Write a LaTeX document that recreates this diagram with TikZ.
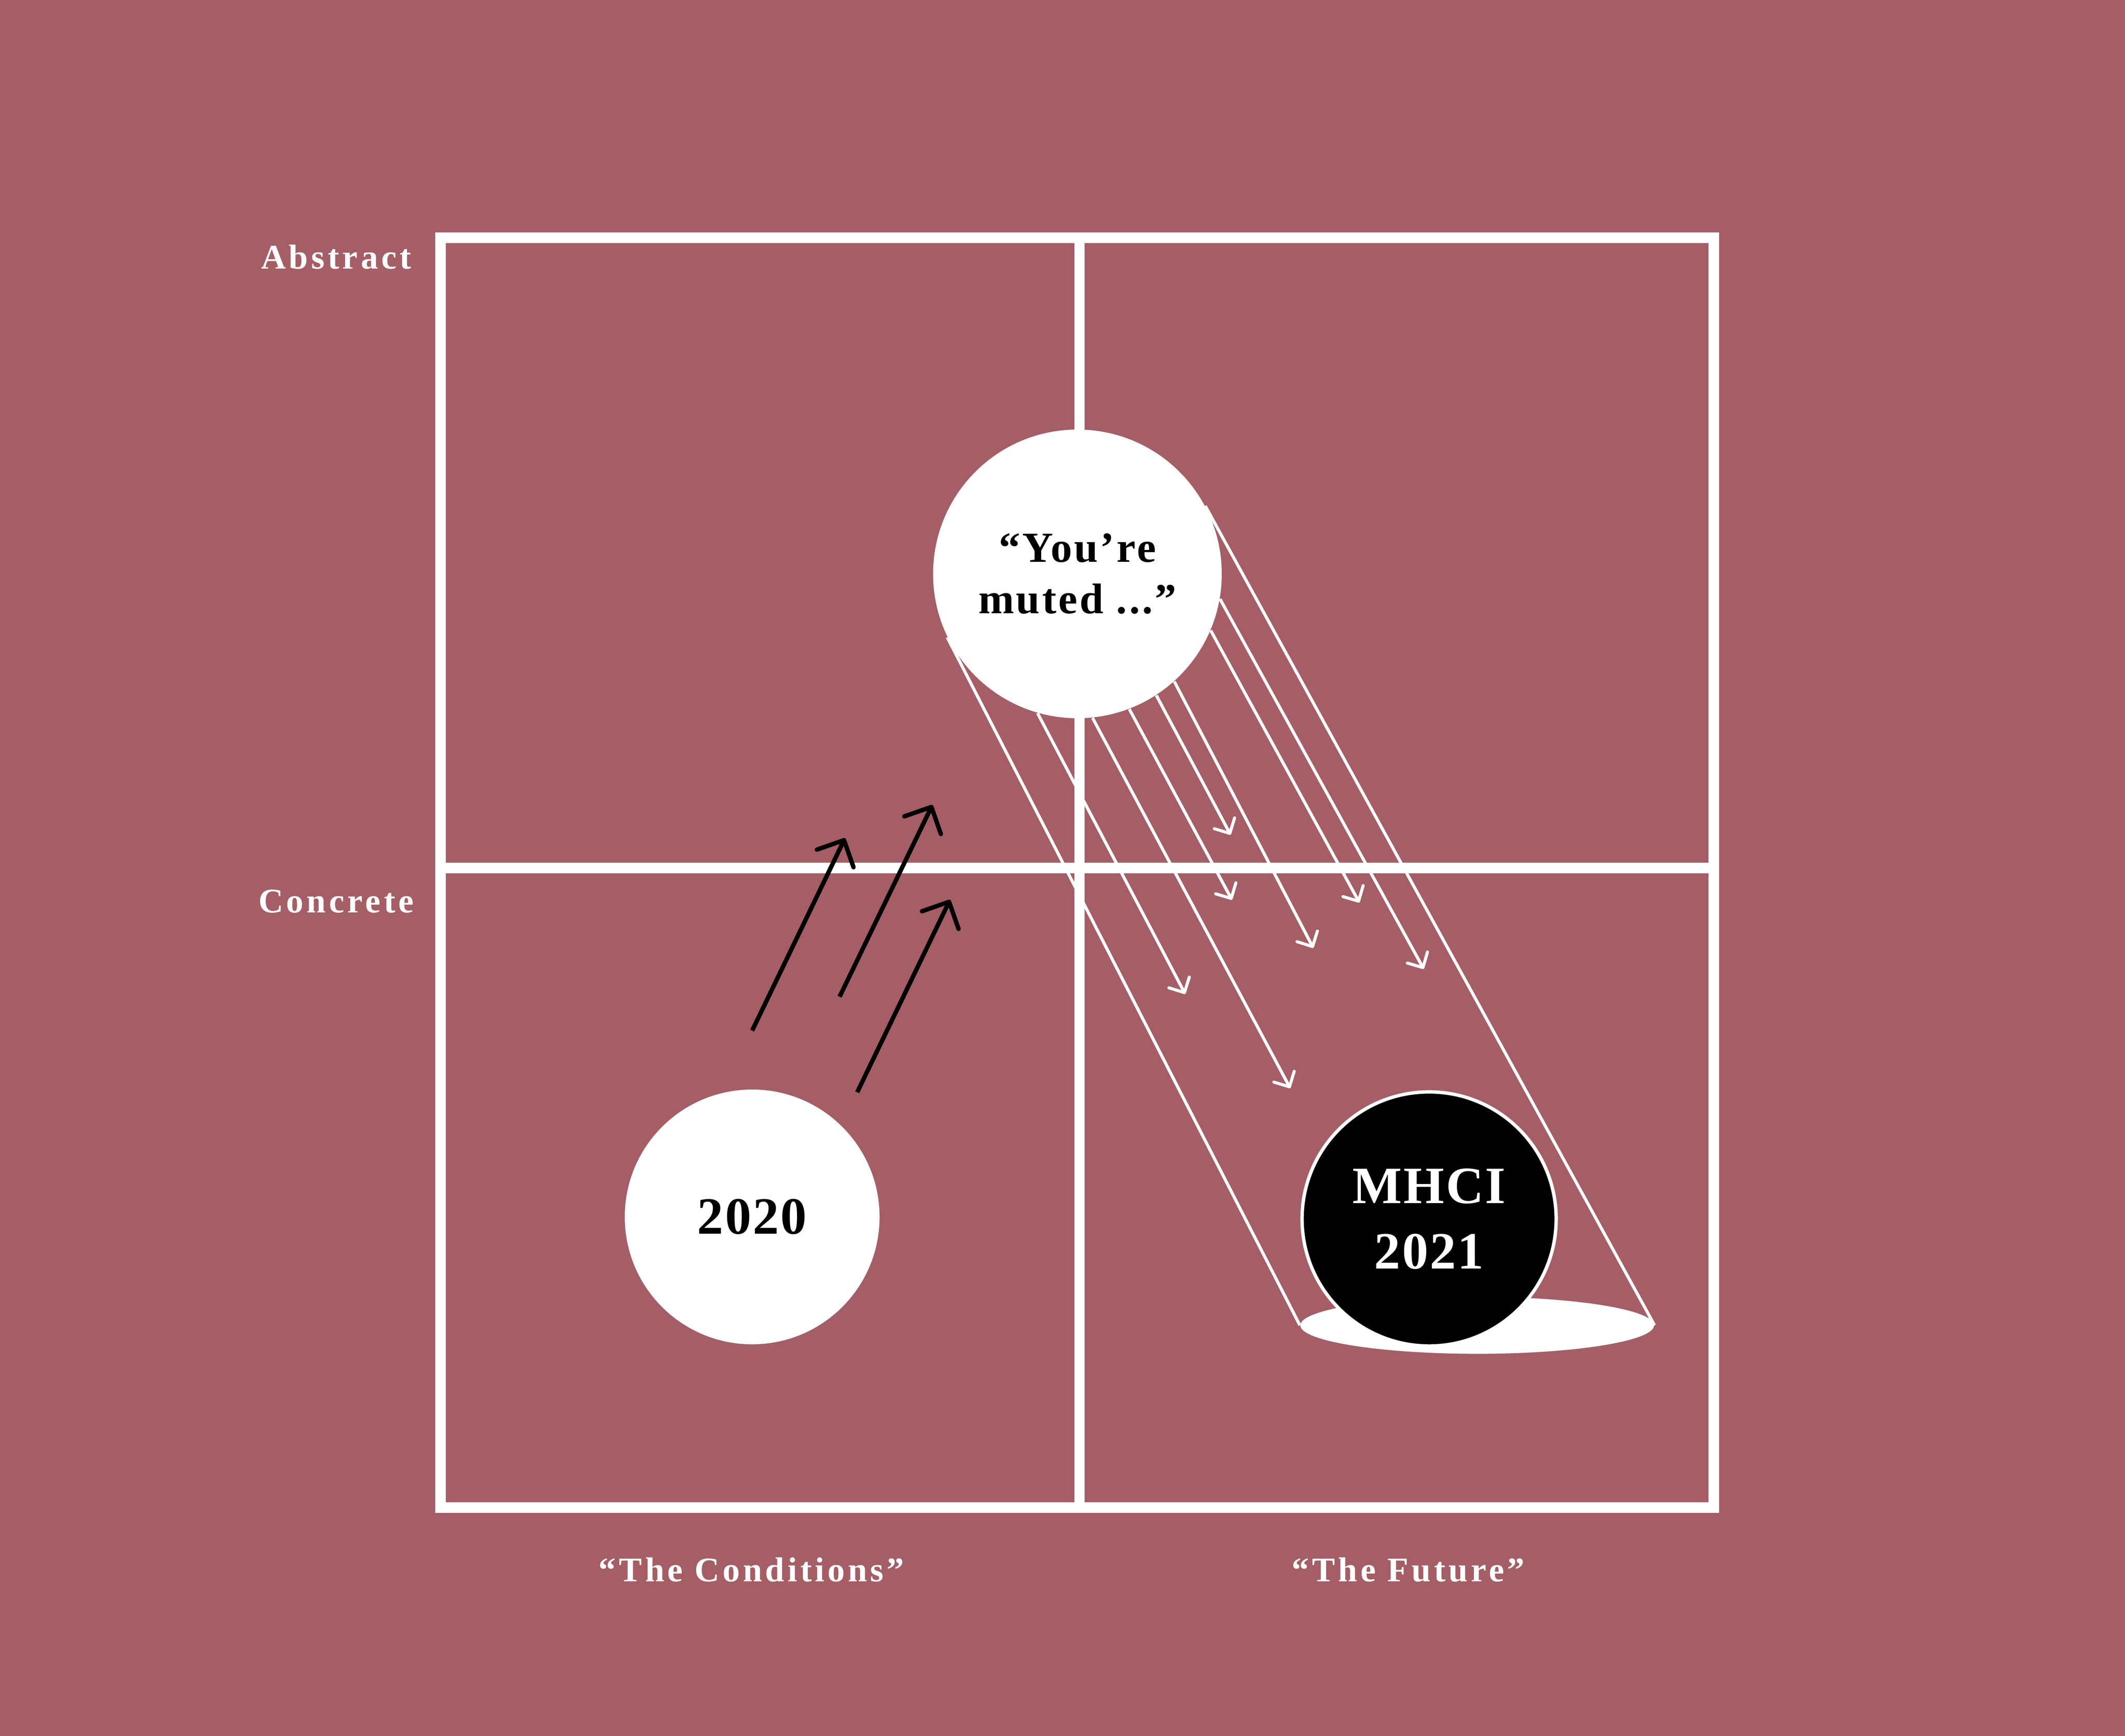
\documentclass[tikz,border=0pt]{standalone}
\usepackage{fontspec}
\setmainfont{Liberation Serif}[LetterSpace=3]
\newfontfamily\labelfont{Liberation Serif}[LetterSpace=9]
\newfontfamily\quotefont{Liberation Serif}[LetterSpace=5]
\usepackage{xcolor}
\usepackage{tikz}
\usetikzlibrary{arrows.meta}
\usetikzlibrary{shapes.geometric}
\definecolor{rose}{RGB}{165,94,102}

\begin{document}
\begin{tikzpicture}[
    grid/.style={white, line width=0.155cm},
    beam/.style={white, line width=0.045cm},
    ray/.style={white, line width=0.045cm, -{Straight Barb[length=1.7mm,width=3.4mm,round]}},
    push/.style={black, line width=0.065cm, -{Straight Barb[length=3mm,width=6mm,round]}},
    axis/.style={white, font=\labelfont\bfseries\fontsize{14.5}{16}\selectfont},
    ball/.style={circle, inner sep=0pt, align=center}
]
    \fill[rose] (0,0) rectangle (31.36,25.62);

    \draw[grid] (6.50,3.37) rectangle (25.29,22.11);
    \draw[grid] (15.93,3.37) -- (15.93,22.11);
    \draw[grid] (6.50,12.81) -- (25.29,12.81);

    \node[axis, anchor=base] (abs) at (4.96,21.65) {Abstract};
    \node[axis, anchor=base] (con) at (4.96,12.15) {Concrete};
    \node[axis, anchor=base] (cond) at (11.09,2.28) {“The Conditions”};
    \node[axis, anchor=base] (fut) at (20.78,2.28) {“The Future”};

    \node[ball, fill=white, minimum size=4.26cm, font=\quotefont\bfseries\fontsize{18}{21.6}\selectfont] (muted) at (15.90,17.15) {“You’re\\muted ...”};
    \node[ellipse, fill=white, inner sep=0pt, minimum width=5.22cm, minimum height=0.84cm] (shadow) at (21.80,6.06) {};

    \draw[beam] (muted.206.9) -- (shadow.west);
    \draw[beam] (muted.28.6) -- (shadow.east);

    \coordinate (r1) at (17.49,10.95);
    \coordinate (r2) at (19.04,9.56);
    \coordinate (r3) at (18.18,12.34);
    \coordinate (r4) at (18.16,13.30);
    \coordinate (r5) at (19.38,11.63);
    \coordinate (r6) at (20.06,12.30);
    \coordinate (r7) at (21.01,11.32);
    \draw[ray] (muted.254) -- (r1);
    \draw[ray] (muted.276) -- (r2);
    \draw[ray] (muted.291.4) -- (r3);
    \draw[ray] (muted.303) -- (r4);
    \draw[ray] (muted.312) -- (r5);
    \draw[ray] (muted.337) -- (r6);
    \draw[ray] (muted.350.4) -- (r7);

    \node[ball, fill=black, draw=white, line width=0.05cm, minimum size=3.75cm, text=white, font=\bfseries\fontsize{22}{27.5}\selectfont] (future) at (21.09,7.63) {MHCI\\2021};
    \node[ball, fill=white, minimum size=3.76cm, font=\bfseries\fontsize{22}{26}\selectfont] (past) at (11.10,7.66) {2020};

    \coordinate (p1) at (11.10,10.41);
    \coordinate (q1) at (12.47,13.25);
    \coordinate (p2) at (12.39,10.91);
    \coordinate (q2) at (13.76,13.74);
    \coordinate (p3) at (12.65,9.50);
    \coordinate (q3) at (14.02,12.34);
    \draw[push] (p1) -- (q1);
    \draw[push] (p2) -- (q2);
    \draw[push] (p3) -- (q3);
\end{tikzpicture}
\end{document}
